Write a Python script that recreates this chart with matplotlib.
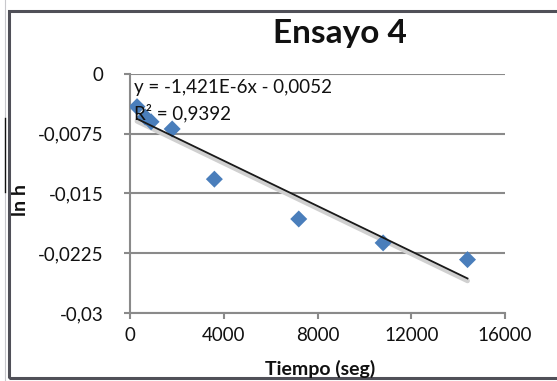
import matplotlib
matplotlib.use("Agg")
import matplotlib.pyplot as plt
import numpy as np
from matplotlib.patches import Rectangle
from matplotlib.lines import Line2D

# Data
tiempo = [300, 650, 900, 1800, 3600, 7200, 10800, 14400]
ln_h = [-0.0041, -0.0054, -0.0060, -0.0069, -0.0132, -0.0182, -0.0212, -0.0233]
slope = -1.421e-6
intercept = -0.0052
eq_text = "y = -1,421E-6x - 0,0052"
r2_text = "R² = 0,9392"
xticks = [0, 4000, 8000, 12000, 16000]
yticks = [0, -0.0075, -0.015, -0.0225, -0.03]
ytick_labels = ["0", "-0,0075", "-0,015", "-0,0225", "-0,03"]

W, H = 557, 381
fig = plt.figure(figsize=(W / 100, H / 100), dpi=100)
fig.patch.set_facecolor("white")
font = "Lato"
fs = 13.5

ax = fig.add_axes([130 / W, 1 - 313 / H, (505 - 130) / W, (313 - 74) / H])
ax.set_xlim(0, 16000)
ax.set_ylim(-0.03, 0)

for y in yticks:
    ax.axhline(y, color="#8a8a8a", lw=1.5, zorder=1)

# trendline with shadow
xs = np.array([tiempo[0], tiempo[-1]])
ys = slope * xs + intercept
ax.plot(xs, ys - 0.0003, color="#d0d0d0", lw=3.5, solid_capstyle="round", zorder=2)
ax.plot(xs, ys, color="#1a1a1a", lw=1.3, zorder=4)

ax.scatter(tiempo, ln_h, marker="D", s=75, color="#4a7ebb", edgecolors="none", zorder=3)

for s in ["top", "right"]:
    ax.spines[s].set_visible(False)
for s in ["left", "bottom"]:
    ax.spines[s].set_color("#8a8a8a")
    ax.spines[s].set_linewidth(1.5)

ax.set_xticks(xticks)
ax.set_xticklabels([str(v) for v in xticks], fontsize=fs, fontfamily=font)
ax.set_yticks(yticks)
ax.set_yticklabels(ytick_labels, fontsize=fs, fontfamily=font)
ax.tick_params(axis="both", colors="#8a8a8a", labelcolor="#111111", length=4, width=1.5)
ax.tick_params(axis="y", pad=15)
ax.tick_params(axis="x", pad=6)
for lab in ax.get_xticklabels() + ax.get_yticklabels():
    lab.set_clip_on(False)

ax.text(0.01, 0.945, eq_text, transform=ax.transAxes, fontsize=fs, fontfamily=font,
        color="#111111", va="center", ha="left", zorder=5)
ax.text(0.01, 0.835, r2_text, transform=ax.transAxes, fontsize=fs, fontfamily=font,
        color="#111111", va="center", ha="left", zorder=5)

fig.text(340 / W, 1 - 33 / H, "Ensayo 4", fontsize=24, fontweight="bold", fontfamily=font,
         ha="center", va="center", color="#111111")
fig.text(320 / W, 1 - 369 / H, "Tiempo (seg)", fontsize=14, fontweight="bold",
         fontfamily=font, ha="center", va="center", color="#111111")
fig.text(20 / W, 1 - 200 / H, "ln h", fontsize=14, fontweight="bold", fontfamily=font,
         ha="center", va="center", rotation=90, color="#111111")

# outer frame
fig.add_artist(Rectangle((9 / W, 1 - 378 / H), 1.0, (378 - 11) / H, transform=fig.transFigure,
                         fill=False, edgecolor="#505058", lw=2.2))
fig.add_artist(Line2D([5 / W, 5 / W], [0, 1], transform=fig.transFigure, color="#c8c8cc", lw=0.8))
fig.add_artist(Line2D([5 / W, 5 / W], [1 - 192 / H, 1 - 118 / H], transform=fig.transFigure,
                      color="#111111", lw=1.0))

fig.savefig("out.png", dpi=100)
